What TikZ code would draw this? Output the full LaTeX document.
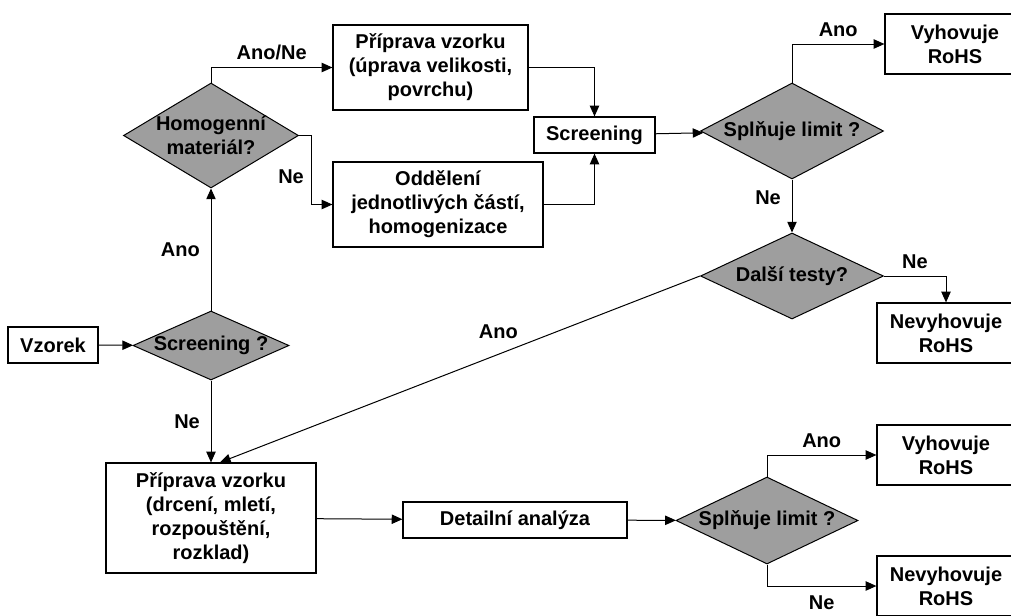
\documentclass[tikz,border=0pt]{standalone}
\usepackage{fontspec}
\setmainfont{Liberation Sans}
\usepackage{tikz}
\usetikzlibrary{arrows.meta,shapes.geometric}
\definecolor{decgray}{RGB}{158,158,158}

\begin{document}
\begin{tikzpicture}[x=0.75pt, y=-0.75pt, line width=0.75pt,
	every node/.style={font=\fontsize{15}{18}\selectfont\bfseries, align=center},
	>={Triangle[length=8pt, width=7pt]},
	box/.style={draw, line width=0.9pt, inner sep=0pt},
	dec/.style={draw, diamond, fill=decgray, inner sep=0pt},
	lbl/.style={inner sep=2pt}]
	\useasboundingbox (0,0) rectangle (1011,615);
	\clip (0,0) rectangle (1011,615);
	\node[box, minimum width=90*0.75pt, minimum height=36*0.75pt] (vz) at (53,345) {Vzorek};
	\node[dec, minimum width=156*0.75pt, minimum height=69*0.75pt, label=center:{Screening ?}] (scq) at (211,345.5) {};
	\node[dec, minimum width=175*0.75pt, minimum height=105*0.75pt, label=center:{Homogenní\\materiál?}] (hom) at (211,135.5) {};
	\node[box, minimum width=195*0.75pt, minimum height=85*0.75pt] (prep1) at (430.5,67.5) {Příprava vzorku\\(úprava velikosti,\\povrchu)};
	\node[box, minimum width=210*0.75pt, minimum height=85*0.75pt] (odd) at (438,204.5) {Oddělení\\jednotlivých částí,\\homogenizace};
	\node[box, minimum width=121*0.75pt, minimum height=36*0.75pt] (scr) at (594.5,135) {Screening};
	\node[dec, minimum width=183*0.75pt, minimum height=96*0.75pt, label=center:{Splňuje limit ?}] (lim1) at (792,131) {};
	\node[box, minimum width=140*0.75pt, minimum height=60*0.75pt] (vyh1) at (955,44) {Vyhovuje\\RoHS};
	\node[dec, minimum width=183*0.75pt, minimum height=86*0.75pt, label=center:{Další testy?}] (dal) at (792,276) {};
	\node[box, minimum width=138*0.75pt, minimum height=60*0.75pt] (nev1) at (946,333) {Nevyhovuje\\RoHS};
	\node[box, minimum width=210*0.75pt, minimum height=110*0.75pt] (prep2) at (211,518) {Příprava vzorku\\(drcení, mletí,\\rozpouštění,\\rozklad)};
	\node[box, minimum width=224*0.75pt, minimum height=36*0.75pt] (det) at (515,520) {Detailní analýza};
	\node[dec, minimum width=182*0.75pt, minimum height=87*0.75pt, label=center:{Splňuje limit ?}] (lim2) at (767,520.5) {};
	\node[box, minimum width=138*0.75pt, minimum height=60*0.75pt] (vyh2) at (946,455) {Vyhovuje\\RoHS};
	\node[box, minimum width=138*0.75pt, minimum height=60*0.75pt] (nev2) at (946,586) {Nevyhovuje\\RoHS};
	\draw[->] (vz) -- (scq);
	\draw[->] (scq) -- node[lbl, left=6pt] (l-ano1) {Ano} (hom);
	\draw[->] (hom.north) |- node[lbl, pos=0.75, above=3pt] (l-anone) {Ano/Ne} (prep1.west);
	\draw[->] (hom.east) -- ++(12,0) |- node[lbl, pos=0.3, left=3pt] (l-ne1) {Ne} (odd.west);
	\draw[->] (prep1.east) -| (scr.north);
	\draw[->] (odd.east) -| (scr.south);
	\draw[->] (scr) -- (lim1);
	\draw[->] (lim1.north) |- node[lbl, pos=0.75, above=3pt] (l-ano2) {Ano} (vyh1.west);
	\draw[->] (lim1) -- node[lbl, pos=0.35, left=6pt] (l-ne2) {Ne} (dal);
	\draw[->] (dal.east) -| node[lbl, pos=0.25, above=3pt] (l-ne3) {Ne} (nev1.north);
	\draw[->] (dal.west) -- node[lbl, pos=0.42, above=9pt] (l-ano3) {Ano} ([xshift=6.75pt]prep2.north);
	\draw[->] (scq) -- node[lbl, left=6pt] (l-ne4) {Ne} (prep2);
	\draw[->] (prep2) -- (det);
	\draw[->] (det) -- (lim2);
	\draw[->] (lim2.north) |- node[lbl, pos=0.75, above=3pt] (l-ano4) {Ano} (vyh2.west);
	\draw[->] (lim2.south) |- node[lbl, pos=0.75, below=5pt] (l-ne5) {Ne} (nev2.west);
\end{tikzpicture}
\end{document}
